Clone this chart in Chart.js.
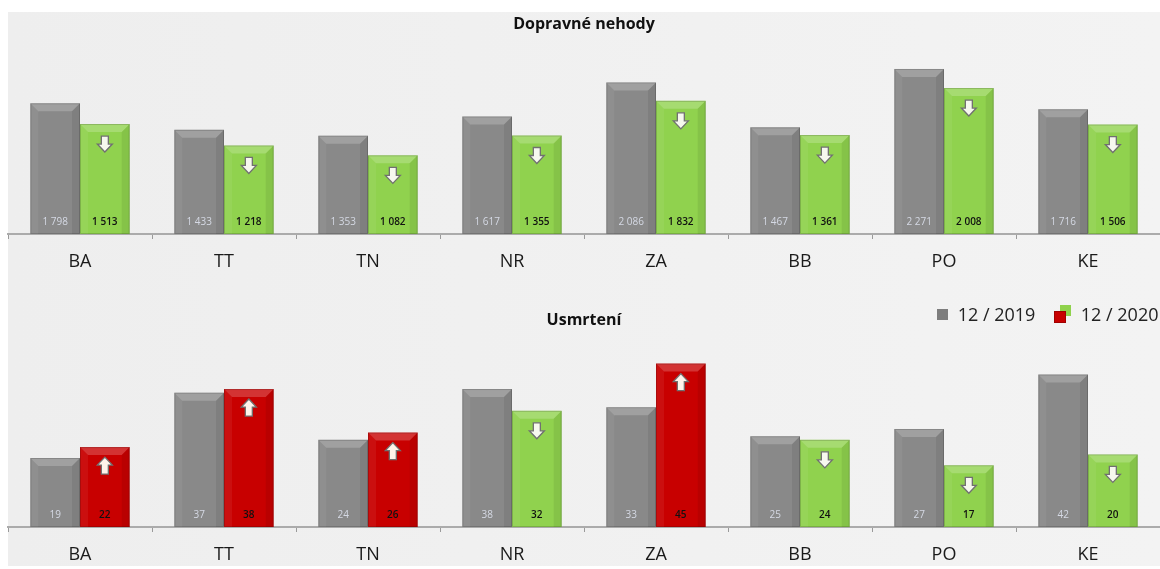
<!DOCTYPE html>
<html>
<head>
<meta charset="utf-8">
<script src="https://cdn.jsdelivr.net/npm/chart.js@4"></script>
<style>
  body { margin: 0; background: #fff; width: 1160px; height: 569px; position: relative; overflow: hidden; font-family: "Open Sans", sans-serif; }
  #bg { position: absolute; left: 8px; top: 12px; width: 1152px; height: 554px; background: linear-gradient(90deg, #eeeeee, #f3f3f3); }
  canvas { position: absolute; left: 0; }
  #legend { position: absolute; left: 937px; top: 300px; font-size: 18px; color: #222; white-space: nowrap; }
  #legend span { display: inline-block; vertical-align: middle; }
  .sq { width: 11px; height: 11px; }
</style>
</head>
<body>
<div id="bg"></div>
<canvas id="nehody" width="1160" height="290" style="top:0"></canvas>
<canvas id="usmrteni" width="1160" height="279" style="top:290px"></canvas>
<div id="legend">
  <span class="sq" style="background:#7d7d7d"></span>
  <span style="margin-left:5px">12 / 2019</span>
  <span style="position:relative;width:20px;height:18px;margin-left:14px">
    <span class="sq" style="position:absolute;left:6px;top:0;background:#8fd24c"></span>
    <span class="sq" style="position:absolute;left:0;top:6px;background:#c80000;border:1px solid #a00000;width:10px;height:10px"></span>
  </span>
  <span style="margin-left:2px">12 / 2020</span>
</div>
<script>
// kraje
var regions = ["BA", "TT", "TN", "NR", "ZA", "BB", "PO", "KE"];

// dopravne nehody
var accidents2019 = [1798, 1433, 1353, 1617, 2086, 1467, 2271, 1716];
var accidents2020 = [1513, 1218, 1082, 1355, 1832, 1361, 2008, 1506];

// usmrtene osoby
var deaths2019 = [19, 37, 24, 38, 33, 25, 27, 42];
var deaths2020 = [22, 38, 26, 32, 45, 24, 17, 20];

var GRAY = "#898989", GREEN = "#90d24e", RED = "#c80000";

function fmt(n) {
  return String(n).replace(/\B(?=(\d{3})+(?!\d))/g, " ");
}

// bevel, arrows and values inside the bars
var barDecor = {
  id: "barDecor",
  afterDatasetsDraw: function(chart) {
    var ctx = chart.ctx;
    chart.data.datasets.forEach(function(ds, di) {
      chart.getDatasetMeta(di).data.forEach(function(bar, i) {
        var w = bar.width, l = bar.x - w / 2, r = bar.x + w / 2, t = bar.y, b = bar.base, e = 8;
        ctx.save();
        ctx.fillStyle = "rgba(255,255,255,0.2)";
        ctx.beginPath(); ctx.moveTo(l, t); ctx.lineTo(r, t); ctx.lineTo(r - e, t + e); ctx.lineTo(l + e, t + e); ctx.closePath(); ctx.fill();
        ctx.fillStyle = "rgba(255,255,255,0.06)";
        ctx.beginPath(); ctx.moveTo(l, t); ctx.lineTo(l + e, t + e); ctx.lineTo(l + e, b); ctx.lineTo(l, b); ctx.closePath(); ctx.fill();
        ctx.fillStyle = "rgba(0,0,0,0.07)";
        ctx.beginPath(); ctx.moveTo(r, t); ctx.lineTo(r - e, t + e); ctx.lineTo(r - e, b); ctx.lineTo(r, b); ctx.closePath(); ctx.fill();
        ctx.strokeStyle = "rgba(0,0,0,0.16)"; ctx.lineWidth = 1;
        ctx.strokeRect(l + 0.5, t + 0.5, w - 1, b - t - 1);

        var v = ds.data[i];
        if (di === 1) {
          var up = v > chart.data.datasets[0].data[i];
          var cx = bar.x, y0 = t + (up ? 10 : 12);
          ctx.beginPath();
          if (up) {
            ctx.moveTo(cx, y0); ctx.lineTo(cx + 7.5, y0 + 8); ctx.lineTo(cx + 3.5, y0 + 8); ctx.lineTo(cx + 3.5, y0 + 17);
            ctx.lineTo(cx - 3.5, y0 + 17); ctx.lineTo(cx - 3.5, y0 + 8); ctx.lineTo(cx - 7.5, y0 + 8);
          } else {
            ctx.moveTo(cx - 3.5, y0); ctx.lineTo(cx + 3.5, y0); ctx.lineTo(cx + 3.5, y0 + 8); ctx.lineTo(cx + 7.5, y0 + 8);
            ctx.lineTo(cx, y0 + 16); ctx.lineTo(cx - 7.5, y0 + 8); ctx.lineTo(cx - 3.5, y0 + 8);
          }
          ctx.closePath();
          ctx.fillStyle = up ? "#fff3ea" : "#f6f8ee";
          ctx.fill();
          ctx.strokeStyle = "#707070"; ctx.lineWidth = 1.3; ctx.stroke();
        }
        ctx.font = (di === 1 ? "600 " : "") + "10px 'Open Sans'";
        ctx.fillStyle = di === 1 ? "#111" : "#d5d9e4";
        ctx.textAlign = "center"; ctx.textBaseline = "middle";
        ctx.fillText(fmt(v), bar.x, b - 12);
        ctx.restore();
      });
    });
  }
};

function makeChart(id, title, d19, d20, yMax, titlePad, axisH) {
  var colors2020 = d20.map(function(v, i) { return v > d19[i] ? RED : GREEN; });
  return new Chart(document.getElementById(id), {
    type: "bar",
    data: {
      labels: regions,
      datasets: [
        { label: "12 / 2019", data: d19, backgroundColor: GRAY, barPercentage: 1, categoryPercentage: 0.69 },
        { label: "12 / 2020", data: d20, backgroundColor: colors2020, barPercentage: 1, categoryPercentage: 0.69 }
      ]
    },
    options: {
      responsive: false,
      animation: false,
      devicePixelRatio: 1,
      layout: { padding: { left: 8, right: 0, top: 0, bottom: 0 } },
      plugins: {
        legend: { display: false },
        tooltip: { enabled: false },
        title: {
          display: true,
          text: title,
          color: "#111",
          font: { family: "Open Sans", size: 16, weight: "bold" },
          padding: titlePad
        }
      },
      scales: {
        x: {
          grid: { display: true, drawOnChartArea: false, drawTicks: true, tickLength: 5, color: "#9a9a9a" },
          border: { display: true, color: "#ababab", width: 2 },
          ticks: { color: "#1a1a1a", font: { family: "Open Sans", size: 18 }, padding: 12 },
          afterFit: function(scale) { scale.height = axisH; }
        },
        y: { display: false, min: 0, max: yMax }
      }
    },
    plugins: [barDecor]
  });
}

makeChart("nehody", "Dopravné nehody", accidents2019, accidents2020, 2680, { top: 15, bottom: 5 }, 56);
makeChart("usmrteni", "Usmrtení", deaths2019, deaths2020, 52, { top: 21, bottom: 8 }, 42);
</script>
</body>
</html>
